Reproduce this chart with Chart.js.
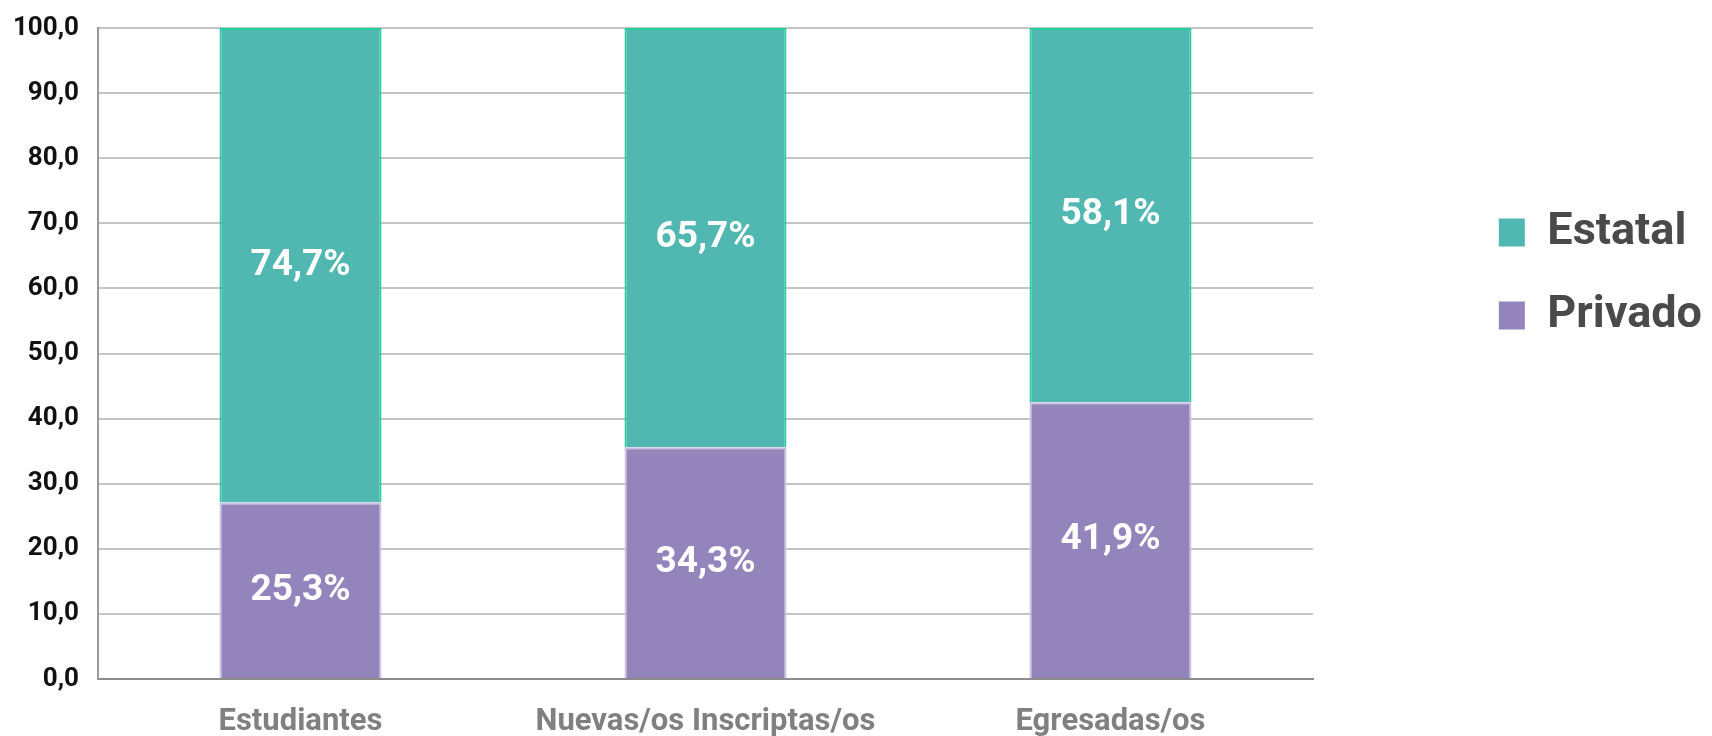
<!DOCTYPE html>
<html>
<head>
<meta charset="utf-8">
<script src="https://cdn.jsdelivr.net/npm/chart.js@4"></script>
<style>
    html, body { margin: 0; padding: 0; background: #fff; }
    #wrap { width: 1712px; height: 736px; position: relative; }
</style>
</head>
<body>
<div id="wrap"><canvas id="barChart"></canvas></div>
<script>
const categories = ['Estudiantes', 'Nuevas/os Inscriptas/os', 'Egresadas/os'];
// alturas de las barras tal como se ven en el gráfico
const privadoValues = [27.1, 35.6, 42.5];
const estatalValues = [72.9, 64.4, 57.5];
// textos que aparecen dentro de las barras
const privadoLabels = ['25,3%', '34,3%', '41,9%'];
const estatalLabels = ['74,7%', '65,7%', '58,1%'];

const FONT = 'Roboto';

const barLabels = {
    id: 'barLabels',
    afterDatasetsDraw(chart) {
        const ctx = chart.ctx;
        ctx.save();
        ctx.fillStyle = '#ffffff';
        ctx.font = 'bold 37px ' + FONT;
        ctx.textAlign = 'center';
        ctx.textBaseline = 'middle';
        chart.data.datasets.forEach((ds, i) => {
            const meta = chart.getDatasetMeta(i);
            meta.data.forEach((bar, j) => {
                const p = bar.getCenterPoint();
                ctx.fillText(ds.valueLabels[j], p.x, p.y);
            });
        });
        ctx.restore();
    }
};

document.addEventListener('DOMContentLoaded', function() {
    const ctx = document.getElementById('barChart').getContext('2d');
    new Chart(ctx, {
        type: 'bar',
        data: {
            labels: categories,
            datasets: [
                {
                    label: 'Privado',
                    data: privadoValues,
                    valueLabels: privadoLabels,
                    backgroundColor: '#9384bc',
                    borderColor: '#cbc0e2',
                    borderWidth: 2
                },
                {
                    label: 'Estatal',
                    data: estatalValues,
                    valueLabels: estatalLabels,
                    backgroundColor: '#50b8b1',
                    borderColor: '#20d09c',
                    borderWidth: 2
                }
            ]
        },
        options: {
            responsive: true,
            maintainAspectRatio: false,
            animation: false,
            layout: { padding: { top: 28, left: 0, right: 0, bottom: 0 } },
            datasets: {
                bar: { categoryPercentage: 1.0, barPercentage: 0.4 }
            },
            plugins: {
                tooltip: { enabled: false },
                legend: {
                    position: 'right',
                    align: 'start',
                    reverse: true,
                    title: {
                        display: true,
                        text: ' ',
                        font: { size: 10 },
                        padding: { top: 0, bottom: 132 }
                    },
                    labels: {
                        boxWidth: 26,
                        boxHeight: 28,
                        padding: 38,
                        color: '#4a4a4d',
                        font: { family: FONT, size: 45, weight: 'bold' },
                        generateLabels(chart) {
                            return Chart.defaults.plugins.legend.labels.generateLabels(chart)
                                .map(l => Object.assign(l, { lineWidth: 0 }));
                        }
                    }
                }
            },
            scales: {
                x: {
                    stacked: true,
                    grid: { display: false },
                    border: { color: '#8c8c8c', width: 2 },
                    ticks: {
                        color: '#808080',
                        padding: 17,
                        font: { family: FONT, size: 31, weight: 'bold' },
                        maxRotation: 0
                    },
                    afterFit(s) { s.height = 57; }
                },
                y: {
                    stacked: true,
                    min: 0,
                    max: 100,
                    grid: { color: '#c4c4c4', lineWidth: 2, drawTicks: false },
                    border: { color: '#9a9a9a', width: 2 },
                    ticks: {
                        stepSize: 10,
                        padding: 19,
                        color: '#111111',
                        font: { family: FONT, size: 26, weight: 'bold' },
                        callback: v => v.toFixed(1).replace('.', ',')
                    },
                    afterFit(s) {
                        s.width = 98;
                        s.paddingTop = 0;
                        s.paddingBottom = 0;
                    }
                },
                pad: {
                    type: 'linear',
                    position: 'right',
                    grid: { display: false },
                    border: { display: false },
                    ticks: { display: false },
                    afterFit(s) {
                        const lw = s.chart.legend ? s.chart.legend.width : 240;
                        s.width = (1712 - 1313) - lw;
                    }
                }
            }
        },
        plugins: [barLabels]
    });
});
</script>
</body>
</html>
